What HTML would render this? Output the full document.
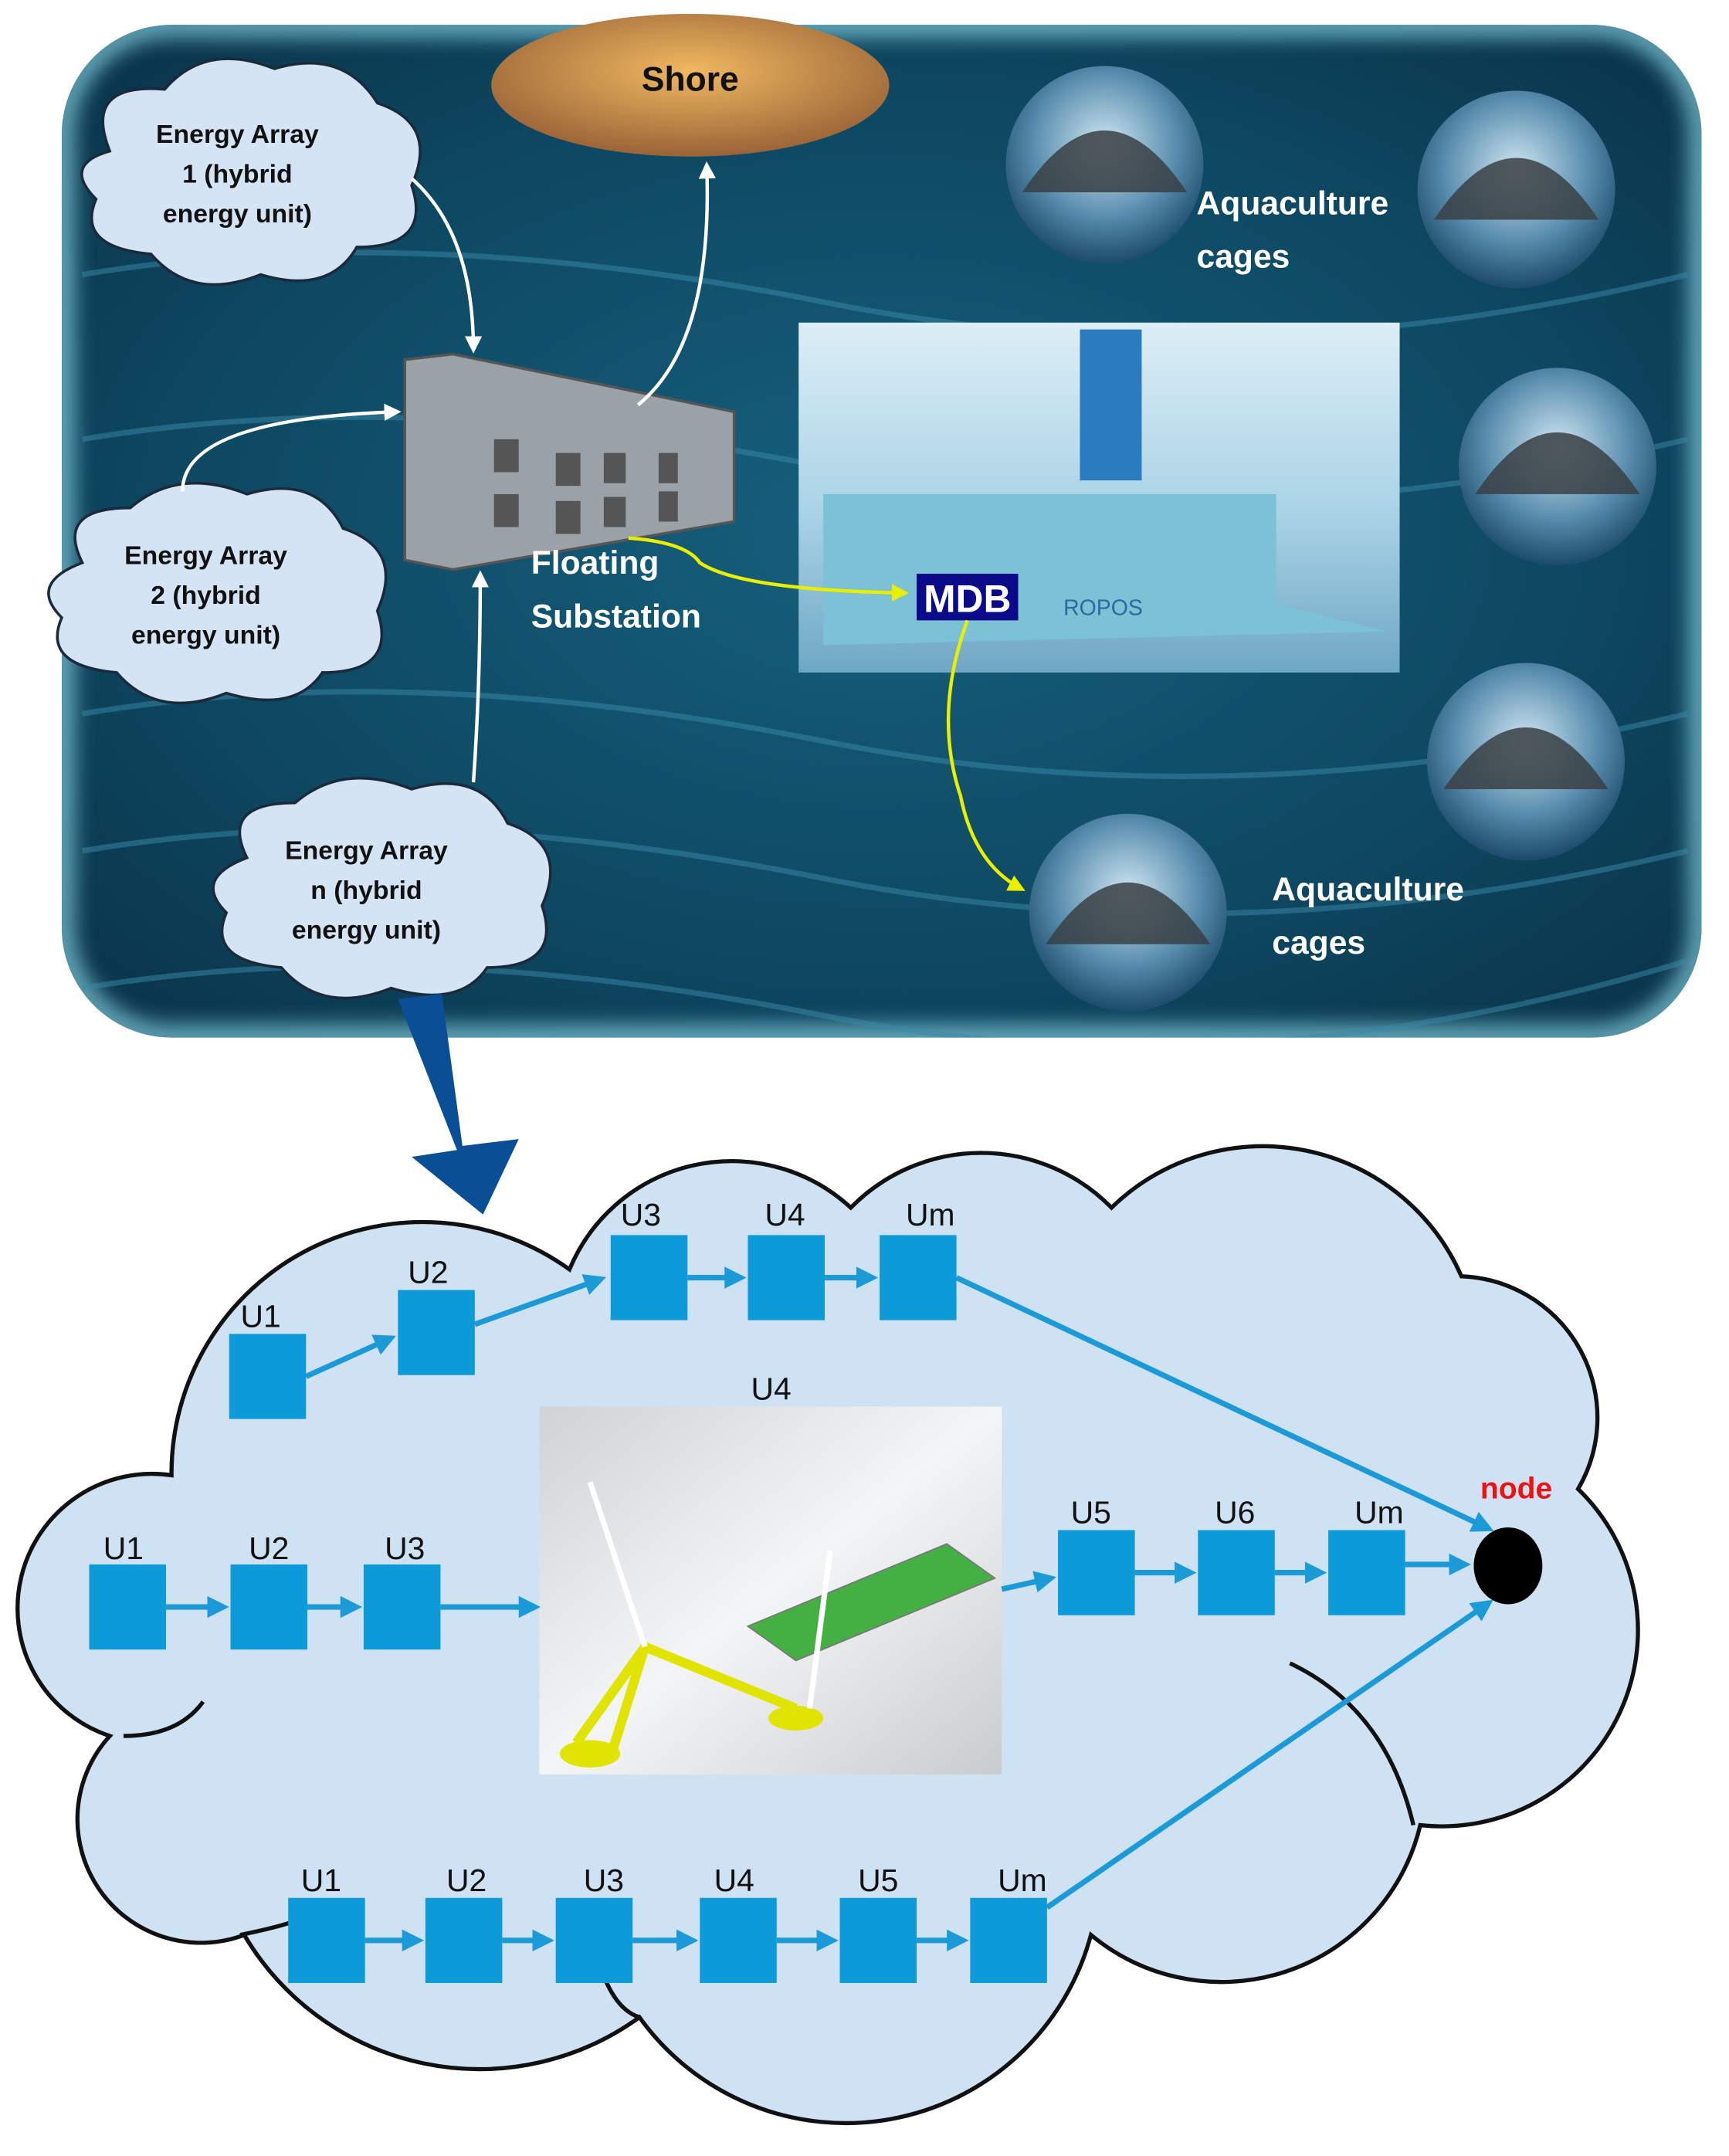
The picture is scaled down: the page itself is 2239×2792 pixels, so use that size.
<!DOCTYPE html>
<html><head><meta charset="utf-8"><style>html,body{margin:0;padding:0;background:#fff}svg{display:block}</style></head><body>
<svg width="2239" height="2792" viewBox="0 0 1260 1571" xmlns="http://www.w3.org/2000/svg" font-family="Liberation Sans, sans-serif">
<defs>
<radialGradient id="sea" cx="50%" cy="50%" r="70%"><stop offset="0" stop-color="#16607e"/><stop offset="0.6" stop-color="#0e4862"/><stop offset="1" stop-color="#0a3248"/></radialGradient>
<radialGradient id="shore" cx="50%" cy="40%" r="60%"><stop offset="0" stop-color="#f0b860"/><stop offset="1" stop-color="#9a6438"/></radialGradient>
<radialGradient id="cage" cx="50%" cy="40%" r="60%"><stop offset="0" stop-color="#cfe6f2"/><stop offset="0.6" stop-color="#5a8eae"/><stop offset="1" stop-color="#1c4a6a"/></radialGradient>
<linearGradient id="ship" x1="0" y1="0" x2="0" y2="1"><stop offset="0" stop-color="#dceef6"/><stop offset="0.55" stop-color="#a9d2e6"/><stop offset="1" stop-color="#6fa7c4"/></linearGradient>
<linearGradient id="wt" x1="0" y1="0" x2="1" y2="1"><stop offset="0" stop-color="#cfd3d6"/><stop offset="0.5" stop-color="#f4f5f6"/><stop offset="1" stop-color="#c9cccf"/></linearGradient>
<filter id="blur"><feGaussianBlur stdDeviation="8"/></filter>
<clipPath id="pc"><rect x="45" y="18" width="1195" height="738" rx="80"/></clipPath>
<marker id="ah" markerWidth="4" markerHeight="4" refX="3" refY="2" orient="auto" markerUnits="strokeWidth"><path d="M0,0 L4,2 L0,4 z" fill="#1c9ad8"/></marker>
<marker id="aw" markerWidth="5" markerHeight="5" refX="4" refY="2.5" orient="auto" markerUnits="strokeWidth"><path d="M0,0 L5,2.5 L0,5 z" fill="#fff"/></marker>
<marker id="ay" markerWidth="5" markerHeight="5" refX="4" refY="2.5" orient="auto" markerUnits="strokeWidth"><path d="M0,0 L5,2.5 L0,5 z" fill="#e8f000"/></marker>
</defs>
<rect x="45" y="18" width="1195" height="738" rx="80" fill="url(#sea)"/>
<g clip-path="url(#pc)">
<rect x="45" y="18" width="1195" height="738" rx="80" fill="none" stroke="#8fdcec" stroke-width="16" filter="url(#blur)" opacity="0.8"/>
<g stroke="#3a8aa8" stroke-width="4" fill="none" opacity="0.5">
<path d="M60,200 Q300,160 600,220 T1230,200"/><path d="M60,320 Q300,280 600,340 T1230,320"/><path d="M60,520 Q300,480 600,540 T1230,520"/><path d="M60,620 Q300,580 600,640 T1230,620"/><path d="M60,720 Q300,680 600,740 T1230,700"/>
</g>
</g>
<ellipse cx="503" cy="62" rx="145" ry="52" fill="url(#shore)"/>
<text x="503" y="66" font-size="25" font-weight="bold" text-anchor="middle" fill="#111">Shore</text>
<g fill="#d5e4f4" stroke="#1a2a3a" stroke-width="2">
<path d="M80,110 Q60,60 120,65 Q150,30 200,50 Q250,35 275,75 Q320,90 300,135 Q315,180 260,180 Q240,215 190,200 Q140,220 110,185 Q55,180 70,145 Q45,120 80,110z"/>
<path d="M60,410 Q40,370 95,370 Q130,340 180,360 Q230,345 250,385 Q295,400 275,445 Q290,490 235,490 Q215,520 165,505 Q115,525 85,490 Q30,485 45,450 Q20,425 60,410z"/>
<path d="M180,625 Q160,585 215,585 Q250,555 300,575 Q350,560 370,600 Q415,615 395,660 Q410,705 355,705 Q335,735 285,720 Q235,740 205,705 Q150,700 165,665 Q140,640 180,625z"/>
</g>
<g font-size="19" font-weight="bold" text-anchor="middle" fill="#111">
<text x="173" y="104">Energy Array</text><text x="173" y="133">1 (hybrid</text><text x="173" y="162">energy unit)</text>
<text x="150" y="411">Energy Array</text><text x="150" y="440">2 (hybrid</text><text x="150" y="469">energy unit)</text>
<text x="267" y="626">Energy Array</text><text x="267" y="655">n (hybrid</text><text x="267" y="684">energy unit)</text>
</g>
<polygon points="295,262 330,258 535,300 535,380 330,415 295,408" fill="#9aa2a8" stroke="#555" stroke-width="2"/>
<g fill="#555"><rect x="360" y="320" width="18" height="24"/><rect x="405" y="330" width="18" height="24"/><rect x="440" y="330" width="16" height="22"/><rect x="480" y="330" width="14" height="22"/><rect x="360" y="360" width="18" height="24"/><rect x="405" y="365" width="18" height="24"/><rect x="440" y="362" width="16" height="22"/><rect x="480" y="358" width="14" height="22"/></g>
<g fill="none" stroke="#fff" stroke-width="2.5">
<path d="M300,130 Q345,170 345,255" marker-end="url(#aw)"/>
<path d="M133,358 Q133,305 290,300" marker-end="url(#aw)"/>
<path d="M345,570 Q350,500 350,418" marker-end="url(#aw)"/>
<path d="M465,295 Q520,250 515,120" marker-end="url(#aw)"/>
</g>
<text x="387" y="418" font-size="24" font-weight="bold" fill="#fff">Floating</text>
<text x="387" y="457" font-size="24" font-weight="bold" fill="#fff">Substation</text>
<rect x="582" y="235" width="438" height="255" fill="url(#ship)"/>
<path d="M600,360 L930,360 L930,440 L1010,460 L600,470z" fill="#7cc1d6"/>
<rect x="787" y="240" width="45" height="110" fill="#2a7bc0"/>
<rect x="668" y="418" width="74" height="34" fill="#0a0a8a"/>
<text x="705" y="446" font-size="28" font-weight="bold" text-anchor="middle" fill="#fff">MDB</text>
<text x="775" y="448" font-size="16" fill="#2a6aa0">ROPOS</text>
<g fill="none" stroke="#e8f000" stroke-width="2.5">
<path d="M458,392 Q500,395 510,410 Q540,430 660,432" marker-end="url(#ay)"/>
<path d="M705,452 Q680,520 700,580 Q710,630 745,648" marker-end="url(#ay)"/>
</g>
<g fill="url(#cage)"><circle cx="805" cy="120" r="72"/><circle cx="1105" cy="138" r="72"/><circle cx="1135" cy="340" r="72"/><circle cx="1112" cy="555" r="72"/><circle cx="822" cy="665" r="72"/></g>
<g fill="#3a3f44" opacity="0.85"><path d="M745,140 Q805,50 865,140z"/><path d="M1045,160 Q1105,70 1165,160z"/><path d="M1075,360 Q1135,270 1195,360z"/><path d="M1052,575 Q1112,485 1172,575z"/><path d="M762,688 Q822,598 882,688z"/></g>
<g font-size="24" font-weight="bold" fill="#fff"><text x="872" y="156">Aquaculture</text><text x="872" y="195">cages</text><text x="927" y="656">Aquaculture</text><text x="927" y="695">cages</text></g>
<path d="M125,1075 A183,183 0 0 1 415,925 A128,128 0 0 1 620,880 A133,133 0 0 1 810,880 A158,158 0 0 1 1065,930 A103,103 0 0 1 1150,1085 A143,143 0 0 1 1035,1330 A149,149 0 0 1 795,1410 A185,185 0 0 1 466,1470 A199,199 0 0 1 178,1410 A90,90 0 0 1 80,1265 A98,98 0 0 1 125,1075 Z" fill="#cfe2f3" stroke="#111" stroke-width="3"/>
<g fill="none" stroke="#111" stroke-width="3">
<path d="M940,1212 Q1010,1245 1030,1330"/><path d="M148,1240 Q130,1265 90,1265"/><path d="M175,1410 Q200,1405 215,1400"/><path d="M440,1440 Q450,1465 466,1470"/>
</g>
<polygon points="290,728 322,724 337,835 378,830 352,885 300,843 333,838" fill="#0a4f96"/>
<rect x="393" y="1025" width="337" height="268" fill="url(#wt)"/>
<g stroke="#e0e400" stroke-width="7" fill="none"><path d="M420,1270 L470,1200 L580,1245 L470,1200 L445,1280"/></g>
<ellipse cx="430" cy="1278" rx="22" ry="10" fill="#e0e400"/><ellipse cx="580" cy="1252" rx="20" ry="9" fill="#e0e400"/>
<path d="M545,1185 L690,1125 L725,1150 L580,1210z" fill="#44b044" stroke="#777"/>
<g stroke="#fff" stroke-width="4"><line x1="430" y1="1080" x2="470" y2="1200"/><line x1="605" y1="1130" x2="590" y2="1245"/></g>
<g fill="#0d9ad8">
<rect x="167" y="972" width="56" height="62"/><rect x="290" y="940" width="56" height="62"/><rect x="445" y="900" width="56" height="62"/><rect x="545" y="900" width="56" height="62"/><rect x="641" y="900" width="56" height="62"/>
<rect x="65" y="1140" width="56" height="62"/><rect x="168" y="1140" width="56" height="62"/><rect x="265" y="1140" width="56" height="62"/><rect x="771" y="1115" width="56" height="62"/><rect x="873" y="1115" width="56" height="62"/><rect x="968" y="1115" width="56" height="62"/>
<rect x="210" y="1383" width="56" height="62"/><rect x="310" y="1383" width="56" height="62"/><rect x="405" y="1383" width="56" height="62"/><rect x="510" y="1383" width="56" height="62"/><rect x="612" y="1383" width="56" height="62"/><rect x="707" y="1383" width="56" height="62"/>
</g>
<g stroke="#1c9ad8" stroke-width="4" fill="none" marker-end="url(#ah)">
<line x1="223" y1="1003" x2="285" y2="975"/><line x1="346" y1="965" x2="438" y2="932"/><line x1="501" y1="931" x2="540" y2="931"/><line x1="601" y1="931" x2="636" y2="931"/><line x1="697" y1="931" x2="1085" y2="1114"/>
<line x1="121" y1="1171" x2="163" y2="1171"/><line x1="224" y1="1171" x2="260" y2="1171"/><line x1="321" y1="1171" x2="390" y2="1171"/><line x1="730" y1="1158" x2="766" y2="1150"/><line x1="827" y1="1146" x2="868" y2="1146"/><line x1="929" y1="1146" x2="963" y2="1146"/><line x1="1024" y1="1140" x2="1068" y2="1140"/>
<line x1="266" y1="1414" x2="305" y2="1414"/><line x1="366" y1="1414" x2="400" y2="1414"/><line x1="461" y1="1414" x2="505" y2="1414"/><line x1="566" y1="1414" x2="607" y2="1414"/><line x1="668" y1="1414" x2="702" y2="1414"/><line x1="763" y1="1390" x2="1085" y2="1168"/>
</g>
<ellipse cx="1099" cy="1141" rx="25" ry="28" fill="#000"/>
<text x="1105" y="1092" font-size="22" font-weight="bold" fill="#ee1111" text-anchor="middle">node</text>
<g font-size="23" fill="#111" text-anchor="middle">
<text x="190" y="967">U1</text><text x="312" y="935">U2</text><text x="467" y="893">U3</text><text x="572" y="893">U4</text><text x="678" y="893">Um</text><text x="562" y="1020">U4</text>
<text x="90" y="1136">U1</text><text x="196" y="1136">U2</text><text x="295" y="1136">U3</text><text x="795" y="1110">U5</text><text x="900" y="1110">U6</text><text x="1005" y="1110">Um</text>
<text x="234" y="1378">U1</text><text x="340" y="1378">U2</text><text x="440" y="1378">U3</text><text x="535" y="1378">U4</text><text x="640" y="1378">U5</text><text x="745" y="1378">Um</text>
</g>
</svg>
</body></html>
